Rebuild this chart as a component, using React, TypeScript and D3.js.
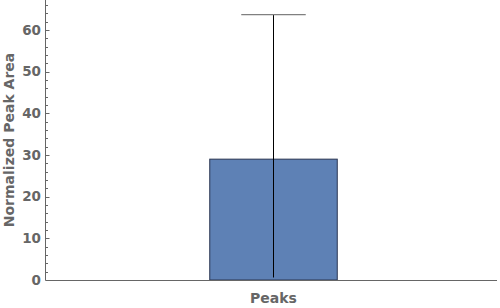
import React from "react";
import * as d3 from "d3";

const categories = ["Peaks"];
const means = [29.0];
const upperErr = [63.7];
const lowerErr = [0.6];
const majorTicks = [0, 10, 20, 30, 40, 50, 60];
const minorTicks = d3.range(0, 67, 2).filter((v) => v % 10 !== 0);

export default function App() {
  const W = 500, H = 308;
  const left = 45.5, right = 500, top = 0, bottom = 280;
  const y = d3.scaleLinear().domain([0, 10]).range([bottom, bottom - 41.67]);
  const x = d3.scaleBand().domain(categories).range([left, right]).paddingInner(0).paddingOuter(0);
  const font = "'DejaVu Sans', sans-serif";
  const gray = "#666666";
  return (
    <svg width={W} height={H} style={{ position: "absolute", left: 0, top: 0 }}>
      {categories.map((c, i) => {
        const cx = Math.round(x(c)! + x.bandwidth() / 2) + 0.5;
        const bw = 127.5;
        const cap = 64.5;
        return (
          <g key={c}>
            <rect x={cx - bw / 2} y={y(means[i])} width={bw} height={bottom - y(means[i])} fill="#5e81b5" stroke="#2a3550" strokeWidth={1} />
            <line x1={cx} x2={cx} y1={y(upperErr[i])} y2={y(lowerErr[i])} stroke="#000" strokeWidth={1} />
            <line x1={cx - cap / 2} x2={cx + cap / 2} y1={y(upperErr[i])} y2={y(upperErr[i])} stroke="#808080" strokeWidth={1.3} />
            <text x={cx} y={302.5} textAnchor="middle" fontFamily={font} fontWeight="bold" fontSize={14} fill={gray}>{c}</text>
          </g>
        );
      })}
      <line x1={left} x2={left} y1={top} y2={bottom} stroke={gray} strokeWidth={1} />
      <line x1={left} x2={497} y1={bottom + 0.5} y2={bottom + 0.5} stroke={gray} strokeWidth={1} />
      {majorTicks.map((t) => (
        <g key={t}>
          <line x1={left} x2={left + 4} y1={Math.round(y(t)) + 0.5} y2={Math.round(y(t)) + 0.5} stroke={gray} />
          <text x={41} y={y(t) + 4.8} textAnchor="end" fontFamily={font} fontWeight="bold" fontSize={13.5} fill={gray}>{t}</text>
        </g>
      ))}
      {minorTicks.map((t) => (
        <line key={t} x1={left} x2={left + 2.5} y1={Math.round(y(t)) + 0.5} y2={Math.round(y(t)) + 0.5} stroke={gray} />
      ))}
      <text transform={`translate(14,140) rotate(-90)`} textAnchor="middle" fontFamily={font} fontWeight="bold" fontSize={14} fill={gray}>Normalized Peak Area</text>
    </svg>
  );
}
